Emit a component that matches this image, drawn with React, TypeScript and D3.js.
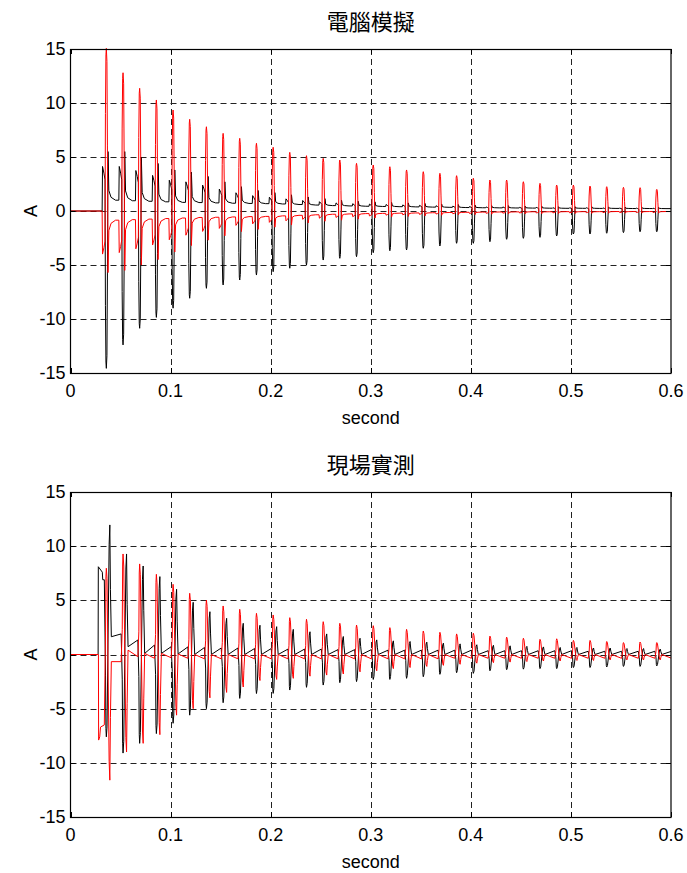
import * as d3 from 'd3'
import { useRef, useEffect } from 'react'

// pulse centre of every 60 Hz cycle (s)
const cycleTimes = [
  0.036, 0.0527, 0.0693, 0.086, 0.1027, 0.1193, 0.136, 0.1527, 0.1693, 0.186, 0.2027, 0.2193,
  0.236, 0.2527, 0.2693, 0.286, 0.3027, 0.3193, 0.336, 0.3527, 0.3693, 0.386, 0.4027, 0.4193,
  0.436, 0.4527, 0.4693, 0.486, 0.5027, 0.5193, 0.536, 0.5527, 0.5693, 0.586
]

// 電腦模擬 (simulation)
const simRedPeak = [
  15.06, 12.8, 11.36, 10.28, 9.35, 8.49, 7.8, 7.19, 6.73, 6.27, 5.9, 5.43, 5.12, 4.87, 4.72, 4.41, 4.26,
  4.1, 3.8, 3.64, 3.49, 3.27, 3.03, 2.87, 2.87, 2.71, 2.56, 2.4, 2.4, 2.31, 2.25, 2.19, 2.16, 2.0
]
const simBlackPeak = [
  -14.57, -12.4, -10.86, -9.85, -9.0, -8.08, -7.16, -6.85, -6.39, -5.93, -5.62, -5.3, -5.0, -4.54, -4.38,
  -4.23, -3.86, -3.68, -3.61, -3.45, -3.24, -2.99, -2.99, -2.84, -2.62, -2.53, -2.44, -2.31, -2.13, -2.13,
  -2.06, -2.0, -1.92, -1.92
]
const simBlackSide = [
  5.5, 5.5, 5.0, 4.4, 3.8, 3.6, 3.2, 2.7, 2.25, 1.9, 1.7, 1.5, 1.3, 1.15, 1.0, 0.9, 0.85, 0.8, 0.75, 0.7,
  0.65, 0.6, 0.55, 0.5, 0.5, 0.45, 0.45, 0.4, 0.4, 0.4, 0.38, 0.36, 0.35, 0.35
]
const simRedSide = [
  -5.7, -5.5, -5.0, -4.5, -3.8, -3.2, -2.7, -2.3, -1.9, -1.7, -1.5, -1.3, -1.1, -0.95, -0.85, -0.75, -0.65,
  -0.55, -0.5, -0.45, -0.4, -0.36, -0.33, -0.3, -0.28, -0.26, -0.25, -0.24, -0.23, -0.22, -0.21, -0.2, -0.2, -0.2
]
const simBlackBase = [
  1.0, 0.95, 0.9, 0.85, 0.8, 0.78, 0.75, 0.72, 0.7, 0.68, 0.65, 0.6, 0.55, 0.5, 0.47, 0.44, 0.42, 0.4, 0.38,
  0.36, 0.34, 0.32, 0.3, 0.29, 0.28, 0.27, 0.26, 0.25, 0.25, 0.24, 0.24, 0.23, 0.23, 0.22
]
const simRedBase = [
  -0.85, -0.8, -0.75, -0.7, -0.65, -0.6, -0.58, -0.55, -0.52, -0.5, -0.45, -0.4, -0.35, -0.3, -0.27, -0.24,
  -0.22, -0.2, -0.18, -0.16, -0.14, -0.12, -0.1, -0.09, -0.08, -0.07, -0.07, -0.06, -0.06, -0.06, -0.05,
  -0.05, -0.05, -0.05
]

// 現場實測 (field measurement)
const measRedPos = [
  7.96, 9.28, 8.36, 7.4, 6.48, 5.65, 5.03, 4.48, 4.17, 3.8, 3.65, 3.4, 3.25, 3.03, 2.88, 2.72, 2.66, 2.48,
  2.32, 2.17, 2.05, 1.9, 1.96, 1.7, 1.6, 1.5, 1.4, 1.45, 1.3, 1.3, 1.2, 1.1, 1.15, 1.1
]
const measRedNeg = [
  -11.6, -9.0, -8.2, -7.4, -5.6, -5.0, -4.0, -3.5, -3.0, -2.4, -2.3, -2.2, -2.0, -1.9, -1.8, -1.6, -1.5,
  -1.3, -1.2, -1.1, -1.0, -0.9, -0.8, -0.75, -0.7, -0.65, -0.6, -0.6, -0.55, -0.55, -0.5, -0.5, -0.5, -0.5
]
const measBlackPos = [
  11.96, 9.28, 8.17, 7.19, 6.02, 4.82, 3.95, 3.34, 2.88, 2.7, 2.57, 2.32, 2.1, 1.9, 1.66, 1.5, 1.35, 1.26,
  1.2, 1.14, 1.05, 0.98, 0.9, 0.85, 0.8, 0.75, 0.7, 0.65, 0.65, 0.6, 0.6, 0.55, 0.55, 0.5
]
const measBlackNeg = [
  -7.6, -9.1, -8.2, -7.3, -6.35, -5.6, -5.0, -4.45, -4.05, -3.6, -3.59, -3.28, -3.03, -2.82, -2.6, -2.5,
  -2.3, -2.3, -2.2, -2.05, -1.83, -1.68, -1.74, -1.5, -1.4, -1.35, -1.3, -1.3, -1.2, -1.2, -1.15, -1.1, -1.1, -1.05
]
// level right after a pulse and just before the next one
const measBlackFrom = [
  1.64, 0.72, 0.1, 0.1, 0.05, 0, 0, 0, 0, 0, 0, 0, 0, 0, 0, 0, 0, 0, 0, 0, 0, 0, 0, 0, 0, 0, 0, 0, 0, 0, 0, 0, 0, 0
]
const measBlackTo = [
  1.9, 1.34, 0.87, 0.72, 0.7, 0.65, 0.6, 0.6, 0.55, 0.55, 0.5, 0.5, 0.5, 0.45, 0.45, 0.45, 0.4, 0.4, 0.4,
  0.4, 0.4, 0.4, 0.35, 0.35, 0.35, 0.35, 0.35, 0.35, 0.3, 0.3, 0.3, 0.3, 0.3, 0.3
]
const measRedFrom = [
  -0.66, 0.4, 0.1, 0.1, 0.05, 0, 0, 0, 0, 0, 0, 0, 0, 0, 0, 0, 0, 0, 0, 0, 0, 0, 0, 0, 0, 0, 0, 0, 0, 0, 0, 0, 0, 0
]
const measRedTo = [
  -0.66, -0.2, -0.35, -0.3, -0.35, -0.4, -0.4, -0.4, -0.4, -0.4, -0.4, -0.4, -0.4, -0.4, -0.4, -0.4, -0.4,
  -0.4, -0.4, -0.4, -0.35, -0.35, -0.35, -0.35, -0.35, -0.35, -0.35, -0.35, -0.35, -0.35, -0.35, -0.35, -0.35, -0.35
]
// energising step before the first measured pulse [t, A]
const measBlackOnset = [[0, 0], [0.0276, 0], [0.0278, 8.1], [0.0318, 7.6], [0.0322, 6.9], [0.0338, 6.9]]
const measRedOnset = [[0, 0], [0.0279, 0], [0.0281, -7.9], [0.0292, -7.6], [0.03, -6.7], [0.0338, -6.5]]

const xTicks = [0, 0.1, 0.2, 0.3, 0.4, 0.5, 0.6]
const yTicks = [-15, -10, -5, 0, 5, 10, 15]
const titles = ['電腦模擬', '現場實測']

type Pt = [number, number]

const simSeries = (peak, side, base, sideK) => {
  const pts: Pt[] = [[0, 0]]
  cycleTimes.forEach((t0, k) => {
    const prev = k === 0 ? 0 : base[k - 1]
    const b = base[k]
    const s = side[k]
    const p = peak[k]
    const shape: Pt[] = [
      [-4.4, prev],
      [-4.0, sideK * s],
      [-2.6, sideK * 0.85 * s],
      [-1.5, sideK * 0.7 * s],
      [-1.1, 0.6 * p],
      [-0.6, 0.96 * p],
      [-0.2, p],
      [0.4, 0.92 * p],
      [0.9, 0.4 * p],
      [1.5, s],
      [2.3, b + 0.2 * (s - b)],
      [4.5, b + 0.06 * (s - b)],
      [9.0, b]
    ]
    shape.forEach(([dt, v]) => pts.push([t0 + dt / 1000, v]))
  })
  pts.push([0.61, base[base.length - 1]])
  return pts
}

const measSeries = (first, second, from, to, onset) => {
  const pts: Pt[] = onset.map(d => [d[0], d[1]] as Pt)
  cycleTimes.forEach((t0, k) => {
    const shape: Pt[] = [
      [-1.0, 0.25 * first[k]],
      [-0.6, 0.9 * first[k]],
      [-0.2, first[k]],
      [0.5, 0.88 * first[k]],
      [2.6, 0.85 * second[k]],
      [3.3, second[k]],
      [3.9, 0.5 * second[k]],
      [4.8, from[k]],
      [14.6, to[k]]
    ]
    shape.forEach(([dt, v]) => pts.push([t0 + dt / 1000, v]))
  })
  return pts
}

const App = () => {
  const ref = useRef(null)

  useEffect(() => {
    const svg = d3.select(ref.current)
    svg.selectAll('*').remove()

    const left = 70.5
    const right = 671
    const panels = [
      { top: 49, bottom: 373 },
      { top: 492, bottom: 817 }
    ]
    const data = [
      [
        { pts: simSeries(simBlackPeak, simBlackSide, simBlackBase, 0.75), color: '#000' },
        { pts: simSeries(simRedPeak, simRedSide, simRedBase, 0.7), color: '#ff0000' }
      ],
      [
        { pts: measSeries(measBlackNeg, measBlackPos, measBlackFrom, measBlackTo, measBlackOnset), color: '#000' },
        { pts: measSeries(measRedPos, measRedNeg, measRedFrom, measRedTo, measRedOnset), color: '#ff0000' }
      ]
    ]
    const font = '"Liberation Sans", Arial, sans-serif'

    panels.forEach((p, i) => {
      const x = d3.scaleLinear().domain([0, 0.6]).range([left, right])
      const y = d3.scaleLinear().domain([-15, 15]).range([p.bottom, p.top])
      const g = svg.append('g')

      // dashed grid
      g.selectAll('line.vgrid')
        .data(xTicks.slice(1, -1))
        .enter()
        .append('line')
        .attr('x1', d => Math.round(x(d)) + 0.5)
        .attr('x2', d => Math.round(x(d)) + 0.5)
        .attr('y1', p.top)
        .attr('y2', p.bottom)
        .attr('stroke', '#222')
        .attr('stroke-dasharray', '6,4')
      g.selectAll('line.hgrid')
        .data(yTicks.slice(1, -1))
        .enter()
        .append('line')
        .attr('x1', left)
        .attr('x2', right)
        .attr('y1', d => Math.round(y(d)) + 0.5)
        .attr('y2', d => Math.round(y(d)) + 0.5)
        .attr('stroke', '#222')
        .attr('stroke-dasharray', '6,4')

      // traces
      const clipId = 'clip' + i
      svg.append('clipPath').attr('id', clipId)
        .append('rect')
        .attr('x', left).attr('y', p.top - 1)
        .attr('width', right - left).attr('height', p.bottom - p.top + 2)
      const line = d3.line().x(d => x(d[0])).y(d => y(d[1]))
      data[i].forEach(s => {
        g.append('path')
          .attr('d', line(s.pts))
          .attr('fill', 'none')
          .attr('stroke', s.color)
          .attr('stroke-width', 1)
          .attr('stroke-linejoin', 'round')
          .attr('clip-path', `url(#${clipId})`)
      })

      // inward ticks on all sides
      const tk = 5
      g.selectAll('line.xt')
        .data(xTicks)
        .enter()
        .append('g')
        .each(function (d) {
          const xx = Math.round(x(d)) + 0.5
          d3.select(this).append('line').attr('x1', xx).attr('x2', xx).attr('y1', p.bottom).attr('y2', p.bottom - tk).attr('stroke', '#000')
          d3.select(this).append('line').attr('x1', xx).attr('x2', xx).attr('y1', p.top).attr('y2', p.top + tk).attr('stroke', '#000')
        })
      g.selectAll('line.yt')
        .data(yTicks)
        .enter()
        .append('g')
        .each(function (d) {
          const yy = Math.round(y(d)) + 0.5
          d3.select(this).append('line').attr('x1', left).attr('x2', left + tk).attr('y1', yy).attr('y2', yy).attr('stroke', '#000')
          d3.select(this).append('line').attr('x1', right).attr('x2', right - tk).attr('y1', yy).attr('y2', yy).attr('stroke', '#000')
        })

      g.append('rect')
        .attr('x', left)
        .attr('y', p.top + 0.5)
        .attr('width', right - left)
        .attr('height', p.bottom - p.top)
        .attr('fill', 'none')
        .attr('stroke', '#000')
        .attr('stroke-width', 1.2)

      // tick labels
      g.selectAll('text.xl')
        .data(xTicks)
        .enter()
        .append('text')
        .attr('x', d => x(d))
        .attr('y', p.bottom + 24)
        .attr('text-anchor', 'middle')
        .attr('font-family', font)
        .attr('font-size', 18)
        .text(d => String(d))
      g.selectAll('text.yl')
        .data(yTicks)
        .enter()
        .append('text')
        .attr('x', left - 5)
        .attr('y', d => y(d) + 6)
        .attr('text-anchor', 'end')
        .attr('font-family', font)
        .attr('font-size', 18)
        .text(d => String(d))

      g.append('text')
        .attr('x', (left + right) / 2)
        .attr('y', p.bottom + 51)
        .attr('text-anchor', 'middle')
        .attr('font-family', font)
        .attr('font-size', 18)
        .text('second')
      g.append('text')
        .attr('transform', `translate(37,${(p.top + p.bottom) / 2}) rotate(-90)`)
        .attr('text-anchor', 'middle')
        .attr('font-family', font)
        .attr('font-size', 18)
        .text('A')
      g.append('text')
        .attr('x', (left + right) / 2)
        .attr('y', p.top - 19)
        .attr('text-anchor', 'middle')
        .attr('font-family', '"Noto Sans CJK TC", sans-serif')
        .attr('font-size', 22)
        .text(titles[i])
    })
  }, [])

  return (
    <svg
      ref={ref}
      width={687}
      height={873}
      style={{ position: 'absolute', left: 0, top: 0, background: '#fff' }}
    ></svg>
  )
}

export default App
